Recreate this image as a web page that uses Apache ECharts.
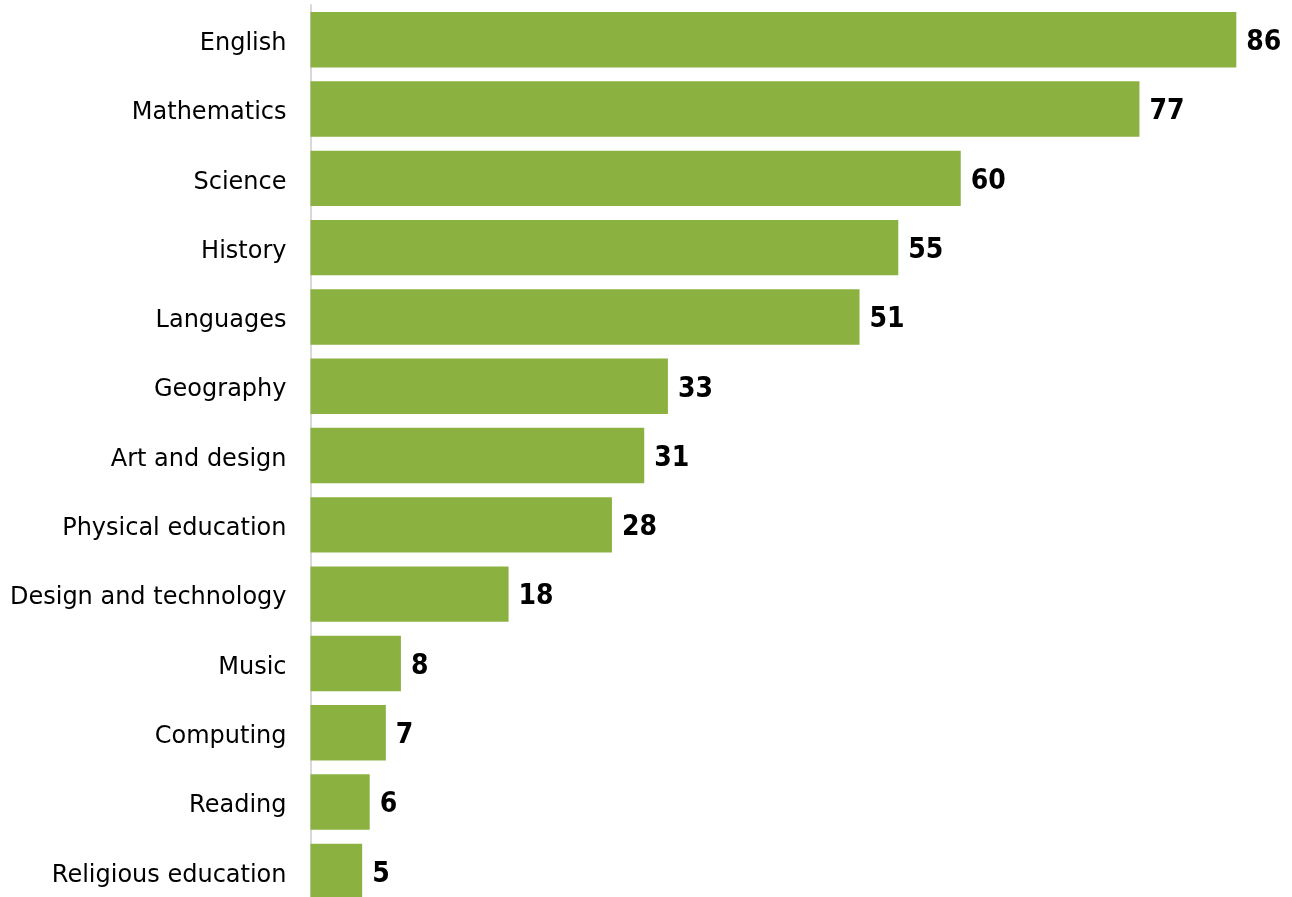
<!DOCTYPE html>
<html><head><meta charset="utf-8">
<script src="https://cdn.jsdelivr.net/npm/echarts@6/dist/echarts.min.js"></script>
<style>html,body{margin:0;padding:0;background:#fff;overflow:hidden}#c{width:1292px;height:906px}</style>
</head><body><div id="c"></div>
<script>
const categories = ["English","Mathematics","Science","History","Languages","Geography","Art and design","Physical education","Design and technology","Music","Computing","Reading","Religious education"];
const values = [86, 77, 60.4, 54.6, 51, 33.2, 31, 28, 18.4, 8.4, 7, 5.5, 4.8];

const chart = echarts.init(document.getElementById('c'), null, {renderer:'canvas'});
chart.setOption({
  animation:false,
  grid:{left:310.5, right:12.6, top:5.1, bottom:0, containLabel:false},
  xAxis:{type:'value', min:0, max:90, show:false},
  yAxis:{type:'category', inverse:true, data:categories,
    axisLine:{show:true, lineStyle:{color:'#D9D9D9', width:2}},
    axisTick:{show:false},
    axisLabel:{color:'#000', fontFamily:'DejaVu Sans', fontSize:24, margin:24,
      formatter:v=>'{a|'+v+'}', rich:{a:{fontFamily:'DejaVu Sans', fontSize:24, color:'#000', padding:[8,0,0,0]}}}},
  series:[{type:'bar', data:values, barWidth:'80%',
    itemStyle:{color:'#8BB241'},
    label:{show:true, position:'right', distance:10, color:'#000', fontWeight:'bold', fontFamily:'DejaVu Sans Condensed', fontSize:28,
      offset:[0,3], formatter:p=>Math.round(p.value)}}]
});
</script></body></html>
